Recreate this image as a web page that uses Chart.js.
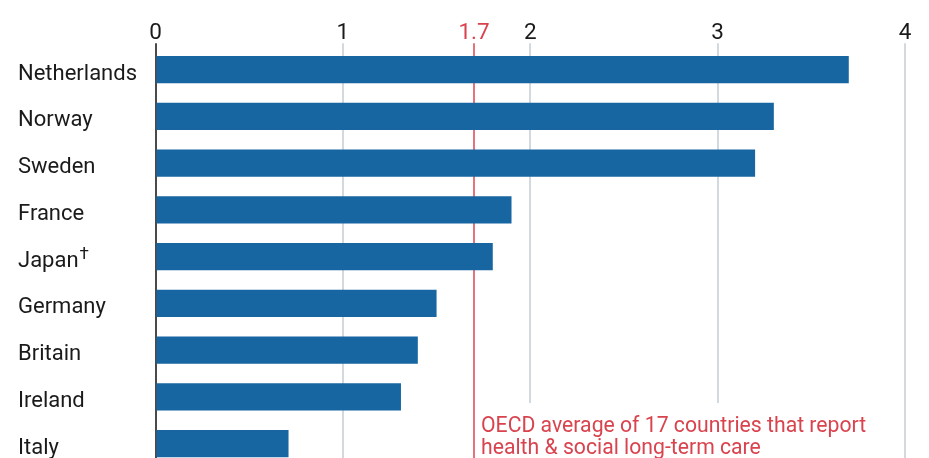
<!DOCTYPE html>
<html>
<head>
<meta charset="utf-8">
<script src="https://cdn.jsdelivr.net/npm/chart.js@4.4.1/dist/chart.umd.min.js"></script>
<style>
  html, body { margin: 0; padding: 0; background: #fff; overflow: hidden; }
  canvas { display: block; }
</style>
</head>
<body>
<canvas id="c" width="929" height="467" style="width:929px;height:467px"></canvas>
<script>
const countries = ["Netherlands", "Norway", "Sweden", "France", "Japan\u2020", "Germany", "Britain", "Ireland", "Italy"];
const spending = [3.70, 3.30, 3.20, 1.90, 1.80, 1.50, 1.40, 1.31, 0.71];
const xTickValues = [0, 1, 1.7, 2, 3, 4];
const oecdAverage = 1.7;
const noteLines = ["OECD average of 17 countries that report", "health & social long-term care"];

const FONT = "Roboto, 'Open Sans', sans-serif";
const RED = "#d9434e";
const RED_LINE = "#e6737b";
const BLUE = "#1766a1";
const GRID = "#d2d9df";
const TEXT = "#1a1a1a";

const labelPlugin = {
  id: 'axisLabels',
  afterDraw(chart) {
    const ctx = chart.ctx;
    const ys = chart.scales.y;
    const xs = chart.scales.x;
    const ca = chart.chartArea;
    ctx.save();
    ctx.textBaseline = 'alphabetic';
    // category labels (left aligned)
    ctx.textAlign = 'left';
    ctx.fillStyle = TEXT;
    chart.data.labels.forEach((lab, i) => {
      const y = ys.getPixelForTick(i) + 10;
      const x = ca.left - 137.5;
      ctx.font = "22px " + FONT;
      if (lab.endsWith('\u2020')) {
        const base = lab.slice(0, -1);
        ctx.fillText(base, x, y);
        const w = ctx.measureText(base).width;
        ctx.font = "17px " + FONT;
        ctx.fillText('\u2020', x + w + 1, y - 8);
      } else {
        ctx.fillText(lab, x, y);
      }
    });
    // value axis labels (top)
    ctx.textAlign = 'center';
    ctx.font = "22.5px " + FONT;
    xs.ticks.forEach(t => {
      ctx.fillStyle = t.value === oecdAverage ? RED : TEXT;
      ctx.fillText(String(t.value), xs.getPixelForValue(t.value), ca.top - 7.5);
    });
    ctx.restore();
  }
};

const notePlugin = {
  id: 'note',
  afterDatasetsDraw(chart) {
    const ctx = chart.ctx;
    const xs = chart.scales.x;
    const ca = chart.chartArea;
    const x0 = xs.getPixelForValue(oecdAverage) + 3;
    ctx.save();
    ctx.font = "21.2px " + FONT;
    const w = Math.max(...noteLines.map(t => ctx.measureText(t).width));
    ctx.fillStyle = "#fff";
    ctx.fillRect(x0, 403, w + 12, ca.bottom - 403 + 2);
    ctx.fillStyle = RED;
    ctx.textBaseline = "alphabetic";
    ctx.textAlign = "left";
    noteLines.forEach((t, i) => ctx.fillText(t, x0 + 4, 432 + i * 22));
    ctx.restore();
  }
};

new Chart(document.getElementById('c'), {
  type: 'bar',
  data: {
    labels: countries,
    datasets: [{
      data: spending,
      backgroundColor: BLUE,
      borderWidth: 0,
      barPercentage: 0.585,
      categoryPercentage: 1.0
    }]
  },
  options: {
    indexAxis: 'y',
    responsive: false,
    maintainAspectRatio: false,
    devicePixelRatio: 1,
    animation: false,
    layout: { padding: { left: 18, right: 24, top: 0, bottom: 0 } },
    plugins: { legend: { display: false }, tooltip: { enabled: false } },
    scales: {
      x: {
        position: 'top',
        min: 0,
        max: 4,
        afterBuildTicks(scale) {
          scale.ticks = xTickValues.map(v => ({ value: v }));
        },
        afterFit(scale) { scale.height = 46.3; },
        border: { display: false },
        grid: {
          drawTicks: true,
          tickLength: 3,
          lineWidth: 2,
          color: ctx => {
            if (!ctx.tick) return GRID;
            if (ctx.tick.value === 0) return '#4a4a4a';
            if (ctx.tick.value === oecdAverage) return RED_LINE;
            return GRID;
          }
        },
        ticks: { display: false }
      },
      y: {
        grid: { display: false },
        border: { display: false },
        afterFit(scale) { scale.width = 137.5; },
        ticks: { display: false }
      }
    }
  },
  plugins: [notePlugin, labelPlugin]
});
</script>
</body>
</html>
